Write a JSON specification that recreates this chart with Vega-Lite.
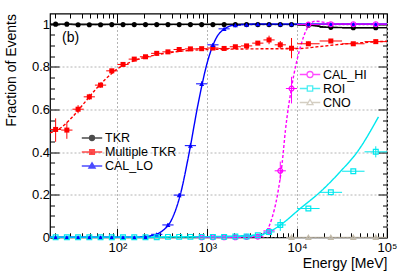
{
  "$schema": "https://vega.github.io/schema/vega-lite/v6.json",
  "width": 337,
  "height": 223.8,
  "autosize": {"type": "none"},
  "padding": {"left": 50, "top": 13.5, "right": 12, "bottom": 35.7},
  "background": "white",
  "config": {"view": {"stroke": "#000", "strokeWidth": 1.2}, "font": "Liberation Sans"},
  "datasets": {
    "pts": [
      {"s": "TKR", "e": 20.54, "elo": 17.78, "ehi": 23.71, "f": 1.0},
      {"s": "TKR", "e": 27.38, "elo": 23.71, "ehi": 31.62, "f": 1.0},
      {"s": "TKR", "e": 36.52, "elo": 31.62, "ehi": 42.17, "f": 0.997},
      {"s": "TKR", "e": 48.70, "elo": 42.17, "ehi": 56.23, "f": 0.997},
      {"s": "TKR", "e": 64.94, "elo": 56.23, "ehi": 74.99, "f": 0.997},
      {"s": "TKR", "e": 86.60, "elo": 74.99, "ehi": 100, "f": 0.998},
      {"s": "TKR", "e": 115.5, "elo": 100, "ehi": 133.4, "f": 0.998},
      {"s": "TKR", "e": 154.0, "elo": 133.4, "ehi": 177.8, "f": 0.998},
      {"s": "TKR", "e": 205.4, "elo": 177.8, "ehi": 237.1, "f": 0.998},
      {"s": "TKR", "e": 273.8, "elo": 237.1, "ehi": 316.2, "f": 0.998},
      {"s": "TKR", "e": 365.2, "elo": 316.2, "ehi": 421.7, "f": 0.998},
      {"s": "TKR", "e": 487.0, "elo": 421.7, "ehi": 562.3, "f": 0.998},
      {"s": "TKR", "e": 649.4, "elo": 562.3, "ehi": 749.9, "f": 0.998},
      {"s": "TKR", "e": 866.0, "elo": 749.9, "ehi": 1000, "f": 0.998},
      {"s": "TKR", "e": 1155, "elo": 1000, "ehi": 1334, "f": 0.998},
      {"s": "TKR", "e": 1540, "elo": 1334, "ehi": 1778, "f": 0.998},
      {"s": "TKR", "e": 2054, "elo": 1778, "ehi": 2371, "f": 0.998},
      {"s": "TKR", "e": 2738, "elo": 2371, "ehi": 3162, "f": 0.998},
      {"s": "TKR", "e": 3652, "elo": 3162, "ehi": 4217, "f": 0.998},
      {"s": "TKR", "e": 4870, "elo": 4217, "ehi": 5623, "f": 0.998},
      {"s": "TKR", "e": 6494, "elo": 5623, "ehi": 7499, "f": 0.998},
      {"s": "TKR", "e": 8660, "elo": 7499, "ehi": 10000, "f": 0.998},
      {"s": "TKR", "e": 13335, "elo": 10000, "ehi": 17783, "f": 0.995},
      {"s": "TKR", "e": 23714, "elo": 17783, "ehi": 31623, "f": 0.985},
      {"s": "TKR", "e": 42170, "elo": 31623, "ehi": 56234, "f": 0.983},
      {"s": "TKR", "e": 74989, "elo": 56234, "ehi": 100000, "f": 0.983},

      {"s": "Multiple TKR", "e": 20.54, "elo": 17.78, "ehi": 23.71, "f": 0.506, "flo": 0.448, "fhi": 0.558},
      {"s": "Multiple TKR", "e": 27.38, "elo": 23.71, "ehi": 31.62, "f": 0.503, "flo": 0.462, "fhi": 0.540},
      {"s": "Multiple TKR", "e": 36.52, "elo": 31.62, "ehi": 42.17, "f": 0.601, "flo": 0.582, "fhi": 0.620},
      {"s": "Multiple TKR", "e": 48.70, "elo": 42.17, "ehi": 56.23, "f": 0.659, "flo": 0.645, "fhi": 0.673},
      {"s": "Multiple TKR", "e": 64.94, "elo": 56.23, "ehi": 74.99, "f": 0.714, "flo": 0.702, "fhi": 0.726},
      {"s": "Multiple TKR", "e": 86.60, "elo": 74.99, "ehi": 100, "f": 0.781, "flo": 0.772, "fhi": 0.790},
      {"s": "Multiple TKR", "e": 115.5, "elo": 100, "ehi": 133.4, "f": 0.811, "flo": 0.804, "fhi": 0.818},
      {"s": "Multiple TKR", "e": 154.0, "elo": 133.4, "ehi": 177.8, "f": 0.836, "flo": 0.830, "fhi": 0.842},
      {"s": "Multiple TKR", "e": 205.4, "elo": 177.8, "ehi": 237.1, "f": 0.847, "flo": 0.842, "fhi": 0.852},
      {"s": "Multiple TKR", "e": 273.8, "elo": 237.1, "ehi": 316.2, "f": 0.863, "flo": 0.858, "fhi": 0.868},
      {"s": "Multiple TKR", "e": 365.2, "elo": 316.2, "ehi": 421.7, "f": 0.870, "flo": 0.865, "fhi": 0.875},
      {"s": "Multiple TKR", "e": 487.0, "elo": 421.7, "ehi": 562.3, "f": 0.881},
      {"s": "Multiple TKR", "e": 649.4, "elo": 562.3, "ehi": 749.9, "f": 0.884},
      {"s": "Multiple TKR", "e": 866.0, "elo": 749.9, "ehi": 1000, "f": 0.885},
      {"s": "Multiple TKR", "e": 1155, "elo": 1000, "ehi": 1334, "f": 0.888},
      {"s": "Multiple TKR", "e": 1540, "elo": 1334, "ehi": 1778, "f": 0.886},
      {"s": "Multiple TKR", "e": 2054, "elo": 1778, "ehi": 2371, "f": 0.894, "flo": 0.888, "fhi": 0.900},
      {"s": "Multiple TKR", "e": 2738, "elo": 2371, "ehi": 3162, "f": 0.898, "flo": 0.891, "fhi": 0.905},
      {"s": "Multiple TKR", "e": 3652, "elo": 3162, "ehi": 4217, "f": 0.911, "flo": 0.902, "fhi": 0.920},
      {"s": "Multiple TKR", "e": 4870, "elo": 4217, "ehi": 5623, "f": 0.926, "flo": 0.906, "fhi": 0.946},
      {"s": "Multiple TKR", "e": 6494, "elo": 5623, "ehi": 7499, "f": 0.903, "flo": 0.885, "fhi": 0.921},
      {"s": "Multiple TKR", "e": 8660, "elo": 7499, "ehi": 10000, "f": 0.887, "flo": 0.840, "fhi": 0.935},
      {"s": "Multiple TKR", "e": 13335, "elo": 10000, "ehi": 17783, "f": 0.908, "flo": 0.898, "fhi": 0.918},
      {"s": "Multiple TKR", "e": 23714, "elo": 17783, "ehi": 31623, "f": 0.921, "flo": 0.913, "fhi": 0.929},
      {"s": "Multiple TKR", "e": 42170, "elo": 31623, "ehi": 56234, "f": 0.908, "flo": 0.900, "fhi": 0.916},
      {"s": "Multiple TKR", "e": 74989, "elo": 56234, "ehi": 100000, "f": 0.918, "flo": 0.908, "fhi": 0.928},

      {"s": "CAL_LO", "e": 20.54, "elo": 17.78, "ehi": 23.71, "f": 0},
      {"s": "CAL_LO", "e": 27.38, "elo": 23.71, "ehi": 31.62, "f": 0},
      {"s": "CAL_LO", "e": 36.52, "elo": 31.62, "ehi": 42.17, "f": 0},
      {"s": "CAL_LO", "e": 48.70, "elo": 42.17, "ehi": 56.23, "f": 0},
      {"s": "CAL_LO", "e": 64.94, "elo": 56.23, "ehi": 74.99, "f": 0},
      {"s": "CAL_LO", "e": 86.60, "elo": 74.99, "ehi": 100, "f": 0},
      {"s": "CAL_LO", "e": 115.5, "elo": 100, "ehi": 133.4, "f": 0},
      {"s": "CAL_LO", "e": 154.0, "elo": 133.4, "ehi": 177.8, "f": 0},
      {"s": "CAL_LO", "e": 205.4, "elo": 177.8, "ehi": 237.1, "f": 0.002},
      {"s": "CAL_LO", "e": 273.8, "elo": 237.1, "ehi": 316.2, "f": 0.014},
      {"s": "CAL_LO", "e": 365.2, "elo": 316.2, "ehi": 421.7, "f": 0.058, "flo": 0.050, "fhi": 0.066},
      {"s": "CAL_LO", "e": 487.0, "elo": 421.7, "ehi": 562.3, "f": 0.198, "flo": 0.188, "fhi": 0.208},
      {"s": "CAL_LO", "e": 649.4, "elo": 562.3, "ehi": 749.9, "f": 0.430, "flo": 0.418, "fhi": 0.442},
      {"s": "CAL_LO", "e": 866.0, "elo": 749.9, "ehi": 1000, "f": 0.720, "flo": 0.708, "fhi": 0.732},
      {"s": "CAL_LO", "e": 1155, "elo": 1000, "ehi": 1334, "f": 0.903, "flo": 0.895, "fhi": 0.911},
      {"s": "CAL_LO", "e": 1540, "elo": 1334, "ehi": 1778, "f": 0.978},
      {"s": "CAL_LO", "e": 2054, "elo": 1778, "ehi": 2371, "f": 0.995},
      {"s": "CAL_LO", "e": 2738, "elo": 2371, "ehi": 3162, "f": 0.998},
      {"s": "CAL_LO", "e": 3652, "elo": 3162, "ehi": 4217, "f": 1.0},
      {"s": "CAL_LO", "e": 4870, "elo": 4217, "ehi": 5623, "f": 1.0},
      {"s": "CAL_LO", "e": 6494, "elo": 5623, "ehi": 7499, "f": 1.0},
      {"s": "CAL_LO", "e": 8660, "elo": 7499, "ehi": 10000, "f": 1.0},
      {"s": "CAL_LO", "e": 13335, "elo": 10000, "ehi": 17783, "f": 1.0},
      {"s": "CAL_LO", "e": 23714, "elo": 17783, "ehi": 31623, "f": 1.0},
      {"s": "CAL_LO", "e": 42170, "elo": 31623, "ehi": 56234, "f": 1.0},
      {"s": "CAL_LO", "e": 74989, "elo": 56234, "ehi": 100000, "f": 1.0},

      {"s": "CAL_HI", "e": 866.0, "elo": 749.9, "ehi": 1000, "f": 0},
      {"s": "CAL_HI", "e": 1155, "elo": 1000, "ehi": 1334, "f": 0},
      {"s": "CAL_HI", "e": 1540, "elo": 1334, "ehi": 1778, "f": 0},
      {"s": "CAL_HI", "e": 2054, "elo": 1778, "ehi": 2371, "f": 0},
      {"s": "CAL_HI", "e": 2738, "elo": 2371, "ehi": 3162, "f": 0.002},
      {"s": "CAL_HI", "e": 3652, "elo": 3162, "ehi": 4217, "f": 0.003},
      {"s": "CAL_HI", "e": 4870, "elo": 4217, "ehi": 5623, "f": 0.030, "flo": 0.020, "fhi": 0.040},
      {"s": "CAL_HI", "e": 6494, "elo": 5623, "ehi": 7499, "f": 0.312, "flo": 0.270, "fhi": 0.355},
      {"s": "CAL_HI", "e": 8660, "elo": 7499, "ehi": 10000, "f": 0.698, "flo": 0.628, "fhi": 0.753},
      {"s": "CAL_HI", "e": 13335, "elo": 10000, "ehi": 17783, "f": 0.998},
      {"s": "CAL_HI", "e": 23714, "elo": 17783, "ehi": 31623, "f": 1.0},
      {"s": "CAL_HI", "e": 42170, "elo": 31623, "ehi": 56234, "f": 1.0},
      {"s": "CAL_HI", "e": 74989, "elo": 56234, "ehi": 100000, "f": 1.0},

      {"s": "ROI", "e": 20.54, "elo": 17.78, "ehi": 23.71, "f": 0},
      {"s": "ROI", "e": 27.38, "elo": 23.71, "ehi": 31.62, "f": 0},
      {"s": "ROI", "e": 36.52, "elo": 31.62, "ehi": 42.17, "f": 0},
      {"s": "ROI", "e": 48.70, "elo": 42.17, "ehi": 56.23, "f": 0},
      {"s": "ROI", "e": 64.94, "elo": 56.23, "ehi": 74.99, "f": 0},
      {"s": "ROI", "e": 86.60, "elo": 74.99, "ehi": 100, "f": 0},
      {"s": "ROI", "e": 115.5, "elo": 100, "ehi": 133.4, "f": 0},
      {"s": "ROI", "e": 154.0, "elo": 133.4, "ehi": 177.8, "f": 0},
      {"s": "ROI", "e": 205.4, "elo": 177.8, "ehi": 237.1, "f": 0},
      {"s": "ROI", "e": 273.8, "elo": 237.1, "ehi": 316.2, "f": 0},
      {"s": "ROI", "e": 365.2, "elo": 316.2, "ehi": 421.7, "f": 0.002},
      {"s": "ROI", "e": 487.0, "elo": 421.7, "ehi": 562.3, "f": 0.002},
      {"s": "ROI", "e": 649.4, "elo": 562.3, "ehi": 749.9, "f": 0.002},
      {"s": "ROI", "e": 866.0, "elo": 749.9, "ehi": 1000, "f": 0.002},
      {"s": "ROI", "e": 1155, "elo": 1000, "ehi": 1334, "f": 0.002},
      {"s": "ROI", "e": 1540, "elo": 1334, "ehi": 1778, "f": 0.002},
      {"s": "ROI", "e": 2054, "elo": 1778, "ehi": 2371, "f": 0.004},
      {"s": "ROI", "e": 2738, "elo": 2371, "ehi": 3162, "f": 0.004},
      {"s": "ROI", "e": 3652, "elo": 3162, "ehi": 4217, "f": 0.010},
      {"s": "ROI", "e": 4870, "elo": 4217, "ehi": 5623, "f": 0.025, "flo": 0.010, "fhi": 0.040},
      {"s": "ROI", "e": 6494, "elo": 5623, "ehi": 7499, "f": 0.058, "flo": 0.030, "fhi": 0.086},
      {"s": "ROI", "e": 13335, "elo": 10000, "ehi": 17783, "f": 0.135},
      {"s": "ROI", "e": 23714, "elo": 17783, "ehi": 31623, "f": 0.211},
      {"s": "ROI", "e": 42170, "elo": 31623, "ehi": 56234, "f": 0.310},
      {"s": "ROI", "e": 74989, "elo": 56234, "ehi": 100000, "f": 0.401, "flo": 0.375, "fhi": 0.427},

      {"s": "CNO", "e": 8660, "elo": 7499, "ehi": 10000, "f": 0},
      {"s": "CNO", "e": 13335, "elo": 10000, "ehi": 17783, "f": 0},
      {"s": "CNO", "e": 23714, "elo": 17783, "ehi": 31623, "f": 0},
      {"s": "CNO", "e": 42170, "elo": 31623, "ehi": 56234, "f": 0},
      {"s": "CNO", "e": 74989, "elo": 56234, "ehi": 100000, "f": 0}
    ],
    "fits": [
      {"s": "TKR", "e": 17.78, "f": 1.0},
      {"s": "TKR", "e": 10000, "f": 0.999},
      {"s": "TKR", "e": 13335, "f": 0.995},
      {"s": "TKR", "e": 23714, "f": 0.985},
      {"s": "TKR", "e": 42170, "f": 0.983},
      {"s": "TKR", "e": 100000, "f": 0.984},

      {"s": "Multiple TKR", "e": 17.78, "f": 0.49},
      {"s": "Multiple TKR", "e": 23.71, "f": 0.515},
      {"s": "Multiple TKR", "e": 31.62, "f": 0.565},
      {"s": "Multiple TKR", "e": 42.17, "f": 0.627},
      {"s": "Multiple TKR", "e": 56.23, "f": 0.69},
      {"s": "Multiple TKR", "e": 74.99, "f": 0.745},
      {"s": "Multiple TKR", "e": 100, "f": 0.79},
      {"s": "Multiple TKR", "e": 133.4, "f": 0.818},
      {"s": "Multiple TKR", "e": 177.8, "f": 0.838},
      {"s": "Multiple TKR", "e": 237.1, "f": 0.851},
      {"s": "Multiple TKR", "e": 316.2, "f": 0.861},
      {"s": "Multiple TKR", "e": 562.3, "f": 0.875},
      {"s": "Multiple TKR", "e": 1000, "f": 0.881},
      {"s": "Multiple TKR", "e": 3162, "f": 0.884},
      {"s": "Multiple TKR", "e": 10000, "f": 0.885},
      {"s": "Multiple TKR", "e": 17783, "f": 0.895},
      {"s": "Multiple TKR", "e": 31623, "f": 0.906},
      {"s": "Multiple TKR", "e": 56234, "f": 0.914},
      {"s": "Multiple TKR", "e": 100000, "f": 0.92},

      {"s": "CAL_LO", "e": 17.78, "f": 0},
      {"s": "CAL_LO", "e": 158.5, "f": 0},
      {"s": "CAL_LO", "e": 199.5, "f": 0.003},
      {"s": "CAL_LO", "e": 251.2, "f": 0.01},
      {"s": "CAL_LO", "e": 316.2, "f": 0.03},
      {"s": "CAL_LO", "e": 398.1, "f": 0.08},
      {"s": "CAL_LO", "e": 501.2, "f": 0.2},
      {"s": "CAL_LO", "e": 631.0, "f": 0.4},
      {"s": "CAL_LO", "e": 794.3, "f": 0.63},
      {"s": "CAL_LO", "e": 1000, "f": 0.82},
      {"s": "CAL_LO", "e": 1259, "f": 0.935},
      {"s": "CAL_LO", "e": 1585, "f": 0.98},
      {"s": "CAL_LO", "e": 1995, "f": 0.995},
      {"s": "CAL_LO", "e": 3162, "f": 1.0},
      {"s": "CAL_LO", "e": 100000, "f": 1.0},

      {"s": "CAL_HI", "e": 794.3, "f": 0},
      {"s": "CAL_HI", "e": 2512, "f": 0},
      {"s": "CAL_HI", "e": 3548, "f": 0.005},
      {"s": "CAL_HI", "e": 3981, "f": 0.012},
      {"s": "CAL_HI", "e": 4634, "f": 0.034},
      {"s": "CAL_HI", "e": 5248, "f": 0.09},
      {"s": "CAL_HI", "e": 5984, "f": 0.19},
      {"s": "CAL_HI", "e": 6808, "f": 0.347},
      {"s": "CAL_HI", "e": 7413, "f": 0.503},
      {"s": "CAL_HI", "e": 8630, "f": 0.698},
      {"s": "CAL_HI", "e": 10890, "f": 0.894},
      {"s": "CAL_HI", "e": 12912, "f": 0.98},
      {"s": "CAL_HI", "e": 15849, "f": 1.014},
      {"s": "CAL_HI", "e": 25119, "f": 1.003},
      {"s": "CAL_HI", "e": 100000, "f": 1.0},

      {"s": "ROI", "e": 17.78, "f": 0},
      {"s": "ROI", "e": 1000, "f": 0.003},
      {"s": "ROI", "e": 1995, "f": 0.006},
      {"s": "ROI", "e": 3917, "f": 0.012},
      {"s": "ROI", "e": 5012, "f": 0.028},
      {"s": "ROI", "e": 6516, "f": 0.058},
      {"s": "ROI", "e": 10890, "f": 0.136},
      {"s": "ROI", "e": 18197, "f": 0.214},
      {"s": "ROI", "e": 30200, "f": 0.308},
      {"s": "ROI", "e": 46774, "f": 0.401},
      {"s": "ROI", "e": 80353, "f": 0.565}
    ]
  },
  "layer": [
    {
      "layer": [
        {
          "data": {"name": "fits"},
          "mark": {"type": "line", "strokeWidth": 1.4, "interpolate": "monotone"},
          "encoding": {
            "x": {"field": "e", "type": "quantitative", "scale": {"type": "log", "domain": [17.78, 100000], "nice": false}, "axis": null},
            "y": {"field": "f", "type": "quantitative", "scale": {"domain": [0, 1.05], "nice": false, "zero": false}, "axis": null},
            "color": {"field": "s", "type": "nominal", "legend": null,
              "scale": {"domain": ["TKR","Multiple TKR","CAL_LO","CAL_HI","ROI","CNO"], "range": ["#000000","#ff0000","#0000ff","#ff00ff","#00e8ee","#c2baa9"]}},
            "strokeDash": {"field": "s", "type": "nominal", "legend": null,
              "scale": {"domain": ["TKR","Multiple TKR","CAL_LO","CAL_HI","ROI","CNO"], "range": [[1,0],[3,2],[1,0],[3,2],[1,0],[1,0]]}}
          }
        },
        {
          "data": {"name": "pts"},
          "mark": {"type": "rule", "strokeWidth": 1},
          "encoding": {
            "x": {"field": "elo", "type": "quantitative", "axis": null},
            "x2": {"field": "ehi"},
            "y": {"field": "f", "type": "quantitative", "axis": null},
            "color": {"field": "s", "type": "nominal", "legend": null}
          }
        },
        {
          "data": {"name": "pts"},
          "transform": [{"filter": "isValid(datum.flo)"}],
          "mark": {"type": "rule", "strokeWidth": 1},
          "encoding": {
            "x": {"field": "e", "type": "quantitative", "axis": null},
            "y": {"field": "flo", "type": "quantitative", "axis": null},
            "y2": {"field": "fhi"},
            "color": {"field": "s", "type": "nominal", "legend": null}
          }
        },
        {
          "data": {"name": "pts"},
          "transform": [{"filter": "indexof(['TKR','Multiple TKR','CAL_LO'], datum.s) >= 0"}],
          "mark": {"type": "point", "filled": true, "opacity": 1},
          "encoding": {
            "x": {"field": "e", "type": "quantitative", "axis": null},
            "y": {"field": "f", "type": "quantitative", "axis": null},
            "color": {"field": "s", "type": "nominal", "legend": null},
            "shape": {"field": "s", "type": "nominal", "legend": null,
              "scale": {"domain": ["TKR","Multiple TKR","CAL_LO","CAL_HI","ROI","CNO"], "range": ["circle","square","triangle-up","circle","square","triangle-up"]}},
            "size": {"field": "s", "type": "nominal", "legend": null,
              "scale": {"domain": ["TKR","Multiple TKR","CAL_LO","CAL_HI","ROI","CNO"], "range": [26, 22, 32, 40, 32, 30]}}
          }
        },
        {
          "data": {"name": "pts"},
          "transform": [{"filter": "indexof(['CAL_HI','ROI','CNO'], datum.s) >= 0"}],
          "mark": {"type": "point", "filled": false, "opacity": 1, "strokeWidth": 1.2},
          "encoding": {
            "x": {"field": "e", "type": "quantitative", "axis": null},
            "y": {"field": "f", "type": "quantitative", "axis": null},
            "color": {"field": "s", "type": "nominal", "legend": null},
            "shape": {"field": "s", "type": "nominal", "legend": null},
            "size": {"field": "s", "type": "nominal", "legend": null}
          }
        },
        {
          "data": {"values": [{"t": "(b)"}]},
          "mark": {"type": "text", "align": "left", "baseline": "middle", "font": "Liberation Sans", "fontSize": 14, "color": "#000"},
          "encoding": {
            "text": {"field": "t"},
            "x": {"datum": 24.2, "type": "quantitative", "axis": null},
            "y": {"datum": 0.933, "type": "quantitative", "axis": null}
          }
        }
      ]
    },
    {
      "data": {"name": "pts"},
      "transform": [{"filter": "false"}],
      "mark": "point",
      "encoding": {
        "x": {
          "field": "e", "type": "quantitative",
          "scale": {"type": "log", "domain": [17.78, 100000], "nice": false},
          "axis": {
            "orient": "bottom",
            "values": [100, 1000, 10000, 100000],
            "labelExpr": "datum.value == 100 ? '10²' : datum.value == 1000 ? '10³' : datum.value == 10000 ? '10⁴' : '10⁵'",
            "tickSize": -9, "tickColor": "#000", "tickWidth": 1,
            "grid": true, "gridColor": "#b4b4b4", "gridDash": [2, 2],
            "domain": false,
            "labelFont": "Liberation Sans", "labelFontSize": 13, "labelColor": "#000",
            "labelPadding": 13, "labelOverlap": false, "labelFlush": false,
            "title": "Energy [MeV]", "titleAnchor": "end", "titleFont": "Liberation Sans",
            "titleFontSize": 14, "titleFontWeight": "normal", "titleColor": "#000", "titlePadding": 2
          }
        },
        "y": {
          "field": "f", "type": "quantitative",
          "scale": {"domain": [0, 1.05], "nice": false, "zero": false},
          "axis": {
            "orient": "left",
            "values": [0, 0.2, 0.4, 0.6, 0.8, 1],
            "labelExpr": "'' + datum.value",
            "tickSize": -9, "tickColor": "#000", "tickWidth": 1,
            "grid": true, "gridColor": "#b4b4b4", "gridDash": [2, 2],
            "domain": false,
            "labelFont": "Liberation Sans", "labelFontSize": 13, "labelColor": "#000",
            "labelPadding": 9.5, "labelOverlap": false, "labelFlush": false,
            "title": "Fraction of Events", "titleAnchor": "end", "titleFont": "Liberation Sans",
            "titleFontSize": 14, "titleFontWeight": "normal", "titleColor": "#000", "titlePadding": 13
          }
        }
      }
    },
    {
      "data": {"name": "pts"},
      "transform": [{"filter": "false"}],
      "mark": "point",
      "encoding": {
        "x": {
          "field": "e", "type": "quantitative",
          "scale": {"type": "log", "domain": [17.78, 100000], "nice": false},
          "axis": {
            "orient": "bottom",
            "values": [20,30,40,50,60,70,80,90,200,300,400,500,600,700,800,900,2000,3000,4000,5000,6000,7000,8000,9000,20000,30000,40000,50000,60000,70000,80000,90000],
            "labels": false, "grid": false, "domain": false, "title": null,
            "tickColor": "#000", "tickWidth": 1, "tickSize": -4.5
          }
        },
        "y": {
          "field": "f", "type": "quantitative",
          "scale": {"domain": [0, 1.05], "nice": false, "zero": false},
          "axis": {
            "orient": "left",
            "values": [0.05,0.1,0.15,0.25,0.3,0.35,0.45,0.5,0.55,0.65,0.7,0.75,0.85,0.9,0.95],
            "labels": false, "grid": false, "domain": false, "title": null,
            "tickColor": "#000", "tickWidth": 1, "tickSize": -4.5
          }
        }
      }
    },
    {
      "data": {"name": "pts"},
      "transform": [{"filter": "false"}],
      "mark": "point",
      "encoding": {
        "x": {
          "field": "e", "type": "quantitative",
          "scale": {"type": "log", "domain": [17.78, 100000], "nice": false},
          "axis": {
            "orient": "top",
            "values": [100, 1000, 10000, 100000],
            "labels": false, "grid": false, "domain": false, "title": null,
            "tickColor": "#000", "tickWidth": 1, "tickSize": -9
          }
        },
        "y": {
          "field": "f", "type": "quantitative",
          "scale": {"domain": [0, 1.05], "nice": false, "zero": false},
          "axis": {
            "orient": "right",
            "values": [0, 0.2, 0.4, 0.6, 0.8, 1],
            "labels": false, "grid": false, "domain": false, "title": null,
            "tickColor": "#000", "tickWidth": 1, "tickSize": -9
          }
        }
      }
    },
    {
      "data": {"name": "pts"},
      "transform": [{"filter": "false"}],
      "mark": "point",
      "encoding": {
        "x": {
          "field": "e", "type": "quantitative",
          "scale": {"type": "log", "domain": [17.78, 100000], "nice": false},
          "axis": {
            "orient": "top",
            "values": [20,30,40,50,60,70,80,90,200,300,400,500,600,700,800,900,2000,3000,4000,5000,6000,7000,8000,9000,20000,30000,40000,50000,60000,70000,80000,90000],
            "labels": false, "grid": false, "domain": false, "title": null,
            "tickColor": "#000", "tickWidth": 1, "tickSize": -4.5
          }
        },
        "y": {
          "field": "f", "type": "quantitative",
          "scale": {"domain": [0, 1.05], "nice": false, "zero": false},
          "axis": {
            "orient": "right",
            "values": [0.05,0.1,0.15,0.25,0.3,0.35,0.45,0.5,0.55,0.65,0.7,0.75,0.85,0.9,0.95],
            "labels": false, "grid": false, "domain": false, "title": null,
            "tickColor": "#000", "tickWidth": 1, "tickSize": -4.5
          }
        }
      }
    },
    {
      "data": {"name": "pts"},
      "transform": [{"filter": "false"}],
      "mark": {"type": "point", "filled": true, "size": 144, "strokeWidth": 1.5},
      "encoding": {
        "color": {"field": "s", "type": "nominal",
          "scale": {"domain": ["TKR","Multiple TKR","CAL_LO"], "range": ["#000000","#ff0000","#0000ff"]},
          "legend": {"title": null, "orient": "none", "legendX": 35, "legendY": 117.5, "labelFont": "Liberation Sans", "labelFontSize": 12.5, "labelColor": "#000", "rowPadding": -1, "symbolStrokeWidth": 1.5, "labelOffset": 6, "padding": 0, "symbolSize": 144}},
        "stroke": {"field": "s", "type": "nominal",
          "scale": {"domain": ["TKR","Multiple TKR","CAL_LO"], "range": ["#000000","#ff0000","#0000ff"]},
          "legend": {"title": null, "orient": "none", "legendX": 35, "legendY": 117.5, "labelFont": "Liberation Sans", "labelFontSize": 12.5, "labelColor": "#000", "rowPadding": -1, "symbolStrokeWidth": 1.5, "labelOffset": 6, "padding": 0, "symbolSize": 144}},
        "shape": {"field": "s", "type": "nominal",
          "scale": {"domain": ["TKR","Multiple TKR","CAL_LO"], "range": [
            "M-1.7,0L-0.4,0M0.4,0L1.7,0M-0.4,0A0.4,0.4,0,1,1,0.4,0A0.4,0.4,0,1,1,-0.4,0Z",
            "M-1.7,0L-0.38,0M0.38,0L1.7,0M-0.38,-0.38L0.38,-0.38L0.38,0.38L-0.38,0.38Z",
            "M-1.7,0L-0.3,0M0.3,0L1.7,0M0,-0.5L0.5,0.35L-0.5,0.35Z"]},
          "legend": {"title": null, "orient": "none", "legendX": 35, "legendY": 117.5, "labelFont": "Liberation Sans", "labelFontSize": 12.5, "labelColor": "#000", "rowPadding": -1, "symbolStrokeWidth": 1.5, "labelOffset": 6, "padding": 0, "symbolSize": 144}}
      }
    },
    {
      "data": {"name": "pts"},
      "transform": [{"filter": "false"}],
      "mark": {"type": "point", "filled": false, "size": 144, "strokeWidth": 1.3},
      "encoding": {
        "color": {"field": "s", "type": "nominal",
          "scale": {"domain": ["CAL_HI","ROI","CNO"], "range": ["#ff00ff","#00e8ee","#c2baa9"]},
          "legend": {"title": null, "orient": "none", "legendX": 253, "legendY": 54, "labelFont": "Liberation Sans", "labelFontSize": 12.5, "labelColor": "#000", "rowPadding": 0, "symbolStrokeWidth": 1.3, "labelOffset": 6, "padding": 0, "symbolSize": 144}},
        "shape": {"field": "s", "type": "nominal",
          "scale": {"domain": ["CAL_HI","ROI","CNO"], "range": [
            "M-1.7,0L-0.5,0M0.5,0L1.7,0M-0.5,0A0.5,0.5,0,1,1,0.5,0A0.5,0.5,0,1,1,-0.5,0Z",
            "M-1.7,0L-0.45,0M0.45,0L1.7,0M-0.45,-0.45L0.45,-0.45L0.45,0.45L-0.45,0.45Z",
            "M-1.7,0L-0.3,0M0.3,0L1.7,0M0,-0.5L0.5,0.35L-0.5,0.35Z"]},
          "legend": {"title": null, "orient": "none", "legendX": 253, "legendY": 54, "labelFont": "Liberation Sans", "labelFontSize": 12.5, "labelColor": "#000", "rowPadding": 0, "symbolStrokeWidth": 1.3, "labelOffset": 6, "padding": 0, "symbolSize": 144}}
      }
    }
  ],
  "resolve": {
    "scale": {"color": "independent", "stroke": "independent", "shape": "independent", "size": "independent", "strokeDash": "independent"},
    "axis": {"x": "independent", "y": "independent"}
  }
}
